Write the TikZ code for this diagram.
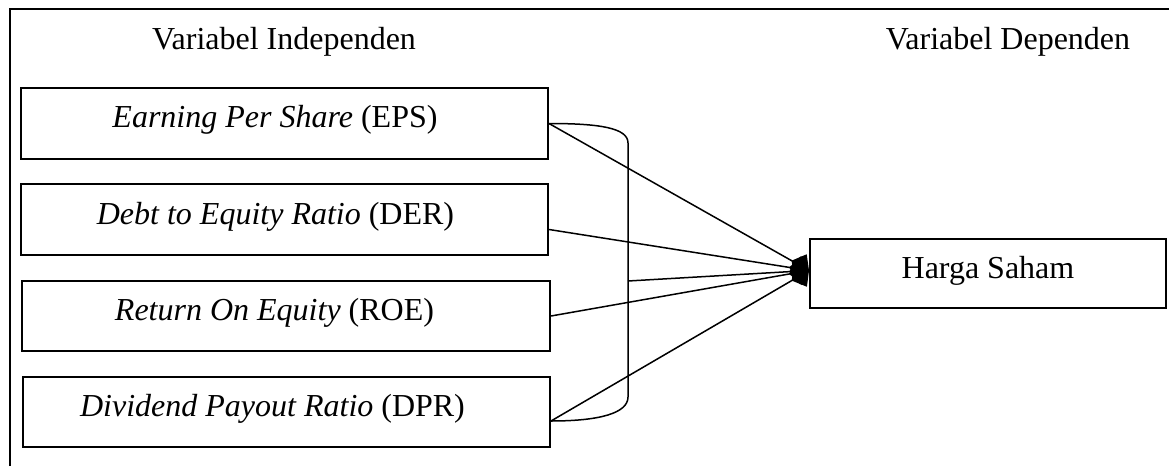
\documentclass[tikz,border=0pt]{standalone}
\usepackage{fontspec}
\setmainfont{Liberation Serif}
\usetikzlibrary{arrows.meta}
\begin{document}
\begin{tikzpicture}[x=1pt,y=-1pt,
  box/.style={draw, line width=2pt, minimum width=#1, minimum height=70pt, inner sep=0pt},
  lbl/.style={anchor=base, font=\fontsize{32}{38}\selectfont, inner sep=0pt},
  conn/.style={line width=1.5pt, -{Kite[length=20pt,width=26pt,inset=10pt]}},
  brace/.style={line width=1.5pt}
  ]
\useasboundingbox (0,0) rectangle (1169,466);
% frame
\coordinate (fbl) at (10,466);
\coordinate (ftl) at (10,9);
\coordinate (ftr) at (1169,9);
\draw[line width=2pt] (fbl) -- (ftl) -- (ftr);
% headings
\node[lbl] (hind) at (284,49) {Variabel Independen};
\node[lbl] (hdep) at (1008,49) {Variabel Dependen};
% boxes
\node[box=527pt, minimum height=71pt] (eps) at (284.5,123.5) {};
\node[box=527pt, minimum height=71pt] (der) at (284.5,219.5) {};
\node[box=528pt] (roe) at (286,316) {};
\node[box=527pt] (dpr) at (286.5,412) {};
\node[box=356pt, minimum height=69pt] (hs) at (988,273.5) {};
% texts
\node[lbl] (epst) at (275,127) {\textit{Earning Per Share} (EPS)};
\node[lbl] (dert) at (275.5,224) {\textit{Debt to Equity Ratio} (DER)};
\node[lbl] (roet) at (274.5,320) {\textit{Return On Equity} (ROE)};
\node[lbl] (dprt) at (272.5,416) {\textit{Dividend Payout Ratio} (DPR)};
\node[lbl] (hst) at (988,278) {Harga Saham};
% connector points
\coordinate (epsout) at (eps.east);
\coordinate (derout) at ([yshift=-10pt]der.east);
\coordinate (roeout) at (roe.east);
\coordinate (dprout) at ([yshift=-9pt]dpr.east);
\coordinate (btop) at (628,143);
\coordinate (bbot) at (628,397);
\coordinate (bmid) at (628,281);
\coordinate (hsin) at ([yshift=3pt]hs.west);
% bracket
\draw[brace] (epsout) .. controls (600,123.5) and (628,128) .. (btop) -- (bbot)
  .. controls (628,413) and (600,421) .. (dprout);
% arrows
\draw[conn] (epsout) -- (hsin);
\draw[conn] (derout) -- (hsin);
\draw[conn] (roeout) -- (hsin);
\draw[conn] (dprout) -- (hsin);
\draw[conn] (bmid) -- (hsin);
\end{tikzpicture}
\end{document}
